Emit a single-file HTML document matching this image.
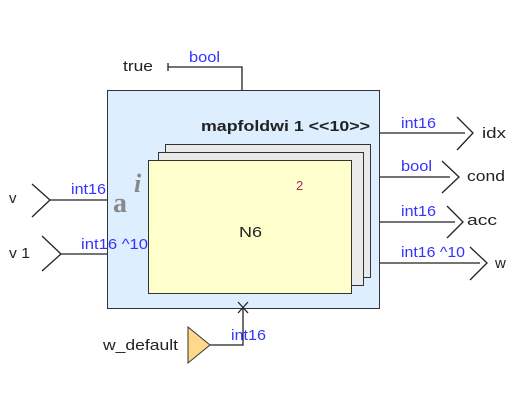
<!DOCTYPE html>
<html><head><style>body{margin:0;background:#fff}svg{display:block}</style></head><body>
<svg width="527" height="400" xmlns="http://www.w3.org/2000/svg" font-family="Liberation Sans, sans-serif" font-size="15">
<rect x="107.5" y="90.5" width="272" height="218" fill="#ddeeff" stroke="#333"/>
<rect x="165.5" y="144.5" width="205" height="133" fill="#eaeaea" stroke="#333"/>
<rect x="158.5" y="152.5" width="205" height="133" fill="#eaeaea" stroke="#333"/>
<rect x="148.5" y="160.5" width="203" height="133" fill="#ffffcc" stroke="#333"/>
<text x="201" y="131" font-weight="bold" fill="#222" textLength="169" lengthAdjust="spacingAndGlyphs">mapfoldwi 1 &lt;&lt;10&gt;&gt;</text>
<text x="239" y="237" fill="#222" textLength="23" lengthAdjust="spacingAndGlyphs">N6</text>
<text x="296" y="190" fill="#993366" font-size="13">2</text>
<text x="113" y="212" fill="#888" font-family="Liberation Serif, serif" font-weight="bold" font-size="28">a</text>
<text x="134" y="192" fill="#888" font-family="Liberation Serif, serif" font-style="italic" font-weight="bold" font-size="26">i</text>
<g stroke="#222" fill="none" stroke-width="1.3">
<path d="M168 63v8M168 67H242V90"/>
<path d="M50 200H107M32 184L50 200L32 217"/>
<path d="M61 254H107M42 236L61 254L42 271"/>
<path d="M380 133H465M457 117L473 133L457 150"/>
<path d="M380 177H450M442 161L459 177L442 193"/>
<path d="M380 222H455M447 206L463 222L447 238"/>
<path d="M380 263H480M470 247L487 263L470 280"/>
<path d="M210 345H243V308M238 302L248 313M248 302L238 313"/>
</g>
<path d="M188 327L210 345L188 363Z" fill="#ffd98a" stroke="#333"/>
<g fill="#3333ff">
<text x="189" y="62" textLength="31" lengthAdjust="spacingAndGlyphs">bool</text>
<text x="71" y="194" textLength="35" lengthAdjust="spacingAndGlyphs">int16</text>
<text x="81" y="249" textLength="67" lengthAdjust="spacingAndGlyphs">int16 ^10</text>
<text x="401" y="128" textLength="35" lengthAdjust="spacingAndGlyphs">int16</text>
<text x="401" y="171" textLength="31" lengthAdjust="spacingAndGlyphs">bool</text>
<text x="401" y="216" textLength="35" lengthAdjust="spacingAndGlyphs">int16</text>
<text x="401" y="257" textLength="64" lengthAdjust="spacingAndGlyphs">int16 ^10</text>
<text x="231" y="340" textLength="35" lengthAdjust="spacingAndGlyphs">int16</text>
</g>
<g fill="#222">
<text x="123" y="71" textLength="30" lengthAdjust="spacingAndGlyphs">true</text>
<text x="9" y="203">v</text>
<text x="9" y="258" textLength="21" lengthAdjust="spacingAndGlyphs">v 1</text>
<text x="482" y="138" textLength="24" lengthAdjust="spacingAndGlyphs">idx</text>
<text x="467" y="181" textLength="38" lengthAdjust="spacingAndGlyphs">cond</text>
<text x="467" y="225" textLength="30" lengthAdjust="spacingAndGlyphs">acc</text>
<text x="495" y="268">w</text>
<text x="103" y="350" textLength="75" lengthAdjust="spacingAndGlyphs">w_default</text>
</g>
</svg>
</body></html>
